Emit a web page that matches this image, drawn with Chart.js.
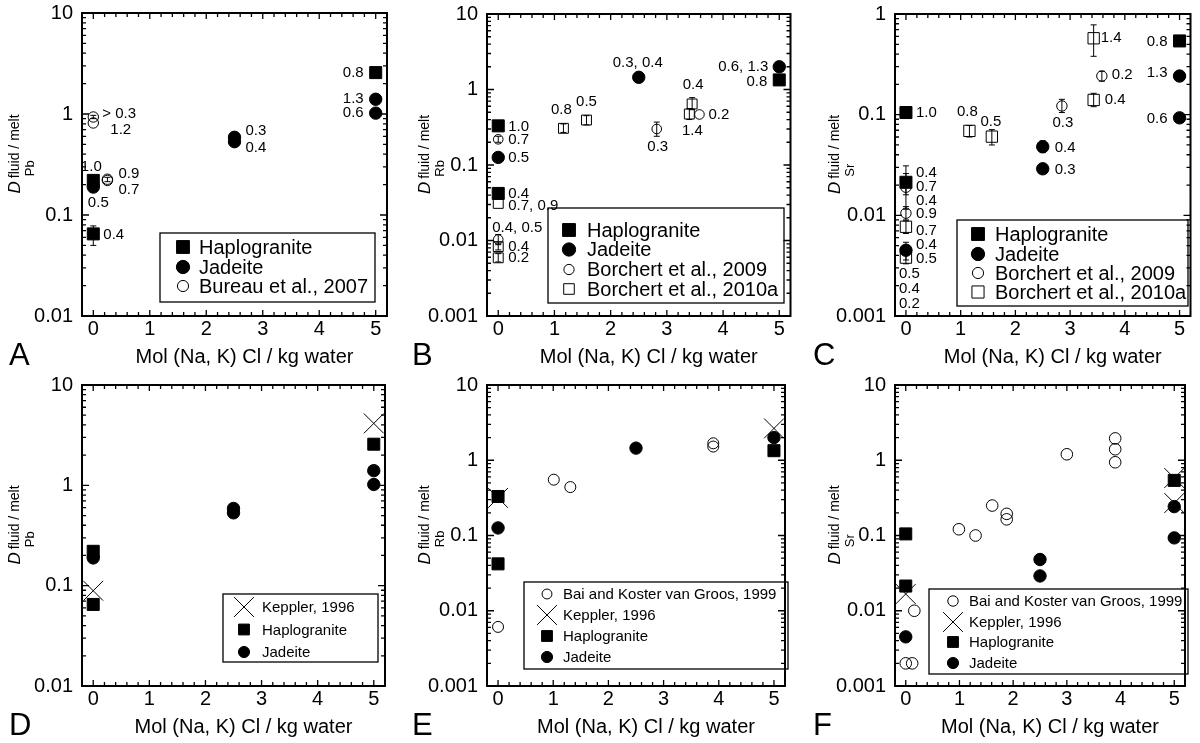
<!DOCTYPE html>
<html>
<head>
<meta charset="utf-8">
<style>
  body { margin: 0; background: #fff; }
  #wrap { position: relative; width: 1200px; height: 743px; overflow: hidden; background: #fff; }
  canvas { position: absolute; }
</style>
</head>
<body>
<div id="wrap">
  <canvas id="pA" width="400" height="372" style="left:0;top:0"></canvas>
  <canvas id="pB" width="400" height="372" style="left:400px;top:0"></canvas>
  <canvas id="pC" width="400" height="372" style="left:800px;top:0"></canvas>
  <canvas id="pD" width="400" height="373" style="left:0;top:370px"></canvas>
  <canvas id="pE" width="400" height="373" style="left:400px;top:370px"></canvas>
  <canvas id="pF" width="400" height="373" style="left:800px;top:370px"></canvas>
</div>

<script src="https://cdn.jsdelivr.net/npm/chart.js"></script>

<script>
  // axis ticks
  const xTicks = [0, 1, 2, 3, 4, 5];
  const yTicksPb = [0.01, 0.1, 1, 10];
  const yTicksRb = [0.001, 0.01, 0.1, 1, 10];
  const yTicksSrC = [0.001, 0.01, 0.1, 1];
  const yTicksSrF = [0.001, 0.01, 0.1, 1, 10];

  // ---- Pb (A, D) ----
  const pbHaploX = [0, 0, 5];
  const pbHaploY = [0.22, 0.065, 2.57];
  const pbHaploLbl = ['1.0', '0.4', '0.8'];
  const pbHaploErr = [null, [0.050, 0.078], null];
  const pbJadeX = [0, 2.5, 2.5, 5, 5];
  const pbJadeY = [0.189, 0.588, 0.532, 1.40, 1.02];
  const pbJadeLbl = ['0.5', '0.3', '0.4', '1.3', '0.6'];
  const pbBureauX = [0, 0, 0.25, 0.25];
  const pbBureauY = [0.934, 0.815, 0.226, 0.220];
  const pbBureauLbl = ['> 0.3', '1.2', '0.9', '0.7'];
  const pbBureauErr = [[0.9, 0.97], null, [0.214, 0.236], null];
  const pbKepplerX = [0, 5];
  const pbKepplerY = [0.089, 4.14];

  // ---- Rb (B, E) ----
  const rbHaploX = [0, 0, 5];
  const rbHaploY = [0.33, 0.042, 1.34];
  const rbHaploLbl = ['1.0', '0.4', '0.8'];
  const rbJadeX = [0, 2.5, 5];
  const rbJadeY = [0.126, 1.45, 2.0];
  const rbJadeLbl = ['0.5', '0.3, 0.4', '0.6, 1.3'];
  const rbB09X = [0, 0, 2.82, 3.58];
  const rbB09Y = [0.219, 0.0103, 0.30, 0.467];
  const rbB09Lbl = ['0.7', '0.4, 0.5', '0.3', '0.2'];
  const rbB09Err = [[0.20, 0.24], [0.0088, 0.012], [0.24, 0.37], null];
  const rbB10X = [0, 0, 0, 1.16, 1.57, 3.40, 3.45];
  const rbB10Y = [0.031, 0.0083, 0.0059, 0.306, 0.394, 0.473, 0.643];
  const rbB10Lbl = ['0.7, 0.9', '0.4', '0.2', '0.8', '0.5', '1.4', '0.4'];
  const rbB10Err = [null, [0.0075, 0.0093], [0.0052, 0.0067], [0.27, 0.35], [0.34, 0.45], [0.40, 0.56], [0.54, 0.78]];
  const rbBaiX = [0, 1.01, 1.31, 3.9, 3.9];
  const rbBaiY = [0.0061, 0.552, 0.44, 1.68, 1.52];
  const rbKepplerX = [0, 5];
  const rbKepplerY = [0.316, 2.65];

  // ---- Sr (C, F) ----
  const srHaploX = [0, 0, 5];
  const srHaploY = [0.105, 0.0213, 0.54];
  const srHaploLbl = ['1.0', '0.4', '0.8'];
  const srHaploErr = [[0.092, 0.118], [0.016, 0.031], null];
  const srJadeX = [0, 2.5, 2.5, 5, 5];
  const srJadeY = [0.0045, 0.048, 0.029, 0.242, 0.093];
  const srJadeLbl = ['0.4', '0.4', '0.3', '1.3', '0.6'];
  const srJadeErr = [[0.0036, 0.0054], [0.042, 0.055], null, null, null];
  const srB09X = [0, 0, 2.85, 3.58];
  const srB09Y = [0.019, 0.0105, 0.122, 0.242];
  const srB09Lbl = ['0.7', ['0.4', '0.9'], '0.3', '0.2'];
  const srB09Err = [[0.0115, 0.026], [0.009, 0.0122], [0.105, 0.142], [0.215, 0.27]];
  const srB10X = [0, 0, 1.16, 1.57, 3.43, 3.43];
  const srB10Y = [0.0077, 0.0038, 0.069, 0.0605, 0.574, 0.14];
  const srB10Lbl = ['0.7', ['0.5', '0.5', '0.4', '0.2'], '0.8', '0.5', '1.4', '0.4'];
  const srB10Err = [[0.0066, 0.0088], [0.0033, 0.0045], [0.060, 0.078], [0.050, 0.071], [0.38, 0.78], [0.12, 0.163]];
  const srBaiX = [0, 0.12, 0.16, 0.99, 1.30, 1.61, 1.88, 1.88, 3.0, 3.9, 3.9, 3.9];
  const srBaiY = [0.002, 0.002, 0.010, 0.121, 0.10, 0.25, 0.194, 0.164, 1.2, 1.95, 1.40, 0.94];
  const srKepplerX = [0, 5, 5];
  const srKepplerY = [0.0167, 0.58, 0.27];

  // label offsets from their point: [dx, dy, align]
  const posPbHaplo = [[-2, -14, 'c'], [10, 1, 'l'], [-12, 0, 'r']];
  const posPbJade = [[5, 16, 'c'], [11, -6, 'l'], [11, 6, 'l'], [-12, 0, 'r'], [-12, 0, 'r']];
  const posPbBureau = [[9, -3, 'l'], [17, 7, 'l'], [11, -5, 'l'], [11, 9, 'l']];
  const posRbHaplo = [[10, 1, 'l'], [10, 0, 'l'], [-12, 2, 'r']];
  const posRbJade = [[10, 0, 'l'], [-1, -14, 'c'], [-11, 0, 'r']];
  const posRbB09 = [[10, 1, 'l'], [-6, -12, 'l'], [1, 18, 'c'], [9, 0, 'l']];
  const posRbB10 = [[10, 2, 'l'], [10, 0, 'l'], [10, 0, 'l'], [-2, -18, 'c'], [0, -18, 'c'], [3, 17, 'c'], [1, -19, 'c']];
  const posSrHaplo = [[10, 0, 'l'], [10, -9, 'l'], [-12, 1, 'r']];
  const posSrJade = [[10, -5, 'l'], [12, 1, 'l'], [12, 1, 'l'], [-12, -3, 'r'], [-12, 1, 'r']];
  const posSrB09 = [[10, 0, 'l'], [[10, -12, 'l'], [10, 1, 'l']], [1, 17, 'c'], [10, -1, 'l']];
  const posSrB10 = [[10, 4, 'l'], [[10, 1, 'l'], [-7, 16, 'l'], [-7, 31, 'l'], [-7, 46, 'l']], [-2, -19, 'c'], [-1, -15, 'c'], [7, 0, 'l'], [11, 0, 'l']];

  const FONT = '"Liberation Sans", Arial, Helvetica, sans-serif';
  Chart.defaults.font.family = FONT;
  Chart.defaults.color = '#000';

  const STYLE = {
    haplo: { pointStyle: 'rect', pointRadius: 8.5, backgroundColor: '#000', borderColor: '#000', borderWidth: 1 },
    jade: { pointStyle: 'circle', pointRadius: 6.2, backgroundColor: '#000', borderColor: '#000', borderWidth: 1 },
    openCircle: { pointStyle: 'circle', pointRadius: 5.2, backgroundColor: 'rgba(0,0,0,0)', borderColor: '#000', borderWidth: 1 },
    openSquare: { pointStyle: 'rect', pointRadius: 7.5, backgroundColor: 'rgba(0,0,0,0)', borderColor: '#000', borderWidth: 1 },
    cross: { pointStyle: 'crossRot', pointRadius: 14, backgroundColor: 'rgba(0,0,0,0)', borderColor: '#000', borderWidth: 1 }
  };

  function series(label, xs, ys, style, extra) {
    return Object.assign({
      label: label,
      data: xs.map((x, i) => ({ x: x, y: ys[i] })),
      showLine: false,
      pointHoverRadius: 0,
      clip: false
    }, STYLE[style], extra || {});
  }

  const PANELS = {
    pA: {
      left: 0, top: 0, area: [82, 13, 387, 316], yMin: 0.01, yMax: 10, yTicks: yTicksPb,
      sub: 'Pb', letter: 'A', letterX: 9, yTitleX: 20,
      legend: { box: [160, 233, 375, 302], rows: [247, 267, 286], mx: 183, tx: 199, font: 20, ms: 1.07,
        items: ['Haplogranite', 'Jadeite', 'Bureau et al., 2007'] },
      datasets: [
        series('Haplogranite', pbHaploX, pbHaploY, 'haplo', { texts: pbHaploLbl, textPos: posPbHaplo, errs: pbHaploErr }),
        series('Jadeite', pbJadeX, pbJadeY, 'jade', { texts: pbJadeLbl, textPos: posPbJade }),
        series('Bureau et al., 2007', pbBureauX, pbBureauY, 'openCircle', { texts: pbBureauLbl, textPos: posPbBureau, errs: pbBureauErr })
      ]
    },
    pB: {
      left: 400, top: 0, area: [487, 14, 791, 316], yMin: 0.001, yMax: 10, yTicks: yTicksRb,
      sub: 'Rb', letter: 'B', letterX: 412, yTitleX: 430,
      legend: { box: [548, 208, 784, 303], rows: [230, 249.5, 269.5, 289], mx: 569, tx: 587, font: 20, ms: 1.07,
        items: ['Haplogranite', 'Jadeite', 'Borchert et al., 2009', 'Borchert et al., 2010a'] },
      datasets: [
        series('Haplogranite', rbHaploX, rbHaploY, 'haplo', { texts: rbHaploLbl, textPos: posRbHaplo }),
        series('Jadeite', rbJadeX, rbJadeY, 'jade', { texts: rbJadeLbl, textPos: posRbJade }),
        series('Borchert et al., 2009', rbB09X, rbB09Y, 'openCircle', { pointRadius: 4.8, texts: rbB09Lbl, textPos: posRbB09, errs: rbB09Err }),
        series('Borchert et al., 2010a', rbB10X, rbB10Y, 'openSquare', { pointRadius: 7, texts: rbB10Lbl, textPos: posRbB10, errs: rbB10Err })
      ]
    },
    pC: {
      left: 800, top: 0, area: [895, 14, 1198, 316], yMin: 0.001, yMax: 1, yTicks: yTicksSrC,
      sub: 'Sr', letter: 'C', letterX: 813, yTitleX: 840,
      legend: { box: [957, 220, 1188, 306], rows: [234, 254, 273, 292], mx: 978, tx: 995, font: 20, ms: 1.07,
        items: ['Haplogranite', 'Jadeite', 'Borchert et al., 2009', 'Borchert et al., 2010a'] },
      datasets: [
        series('Haplogranite', srHaploX, srHaploY, 'haplo', { texts: srHaploLbl, textPos: posSrHaplo, errs: srHaploErr }),
        series('Jadeite', srJadeX, srJadeY, 'jade', { texts: srJadeLbl, textPos: posSrJade, errs: srJadeErr }),
        series('Borchert et al., 2009', srB09X, srB09Y, 'openCircle', { texts: srB09Lbl, textPos: posSrB09, errs: srB09Err }),
        series('Borchert et al., 2010a', srB10X, srB10Y, 'openSquare', { pointRadius: 8, texts: srB10Lbl, textPos: posSrB10, errs: srB10Err })
      ]
    },
    pD: {
      left: 0, top: 370, area: [82, 383, 387, 686], yMin: 0.01, yMax: 10, yTicks: yTicksPb,
      sub: 'Pb', letter: 'D', letterX: 9, yTitleX: 20,
      legend: { box: [223, 594, 378, 662], rows: [607, 629.5, 652], mx: 244, tx: 262, font: 15, ms: 0.9,
        items: ['Keppler, 1996', 'Haplogranite', 'Jadeite'] },
      datasets: [
        series('Keppler, 1996', pbKepplerX, pbKepplerY, 'cross'),
        series('Haplogranite', pbHaploX, pbHaploY, 'haplo'),
        series('Jadeite', pbJadeX, pbJadeY, 'jade')
      ]
    },
    pE: {
      left: 400, top: 370, area: [487, 383, 791, 686], yMin: 0.001, yMax: 10, yTicks: yTicksRb,
      sub: 'Rb', letter: 'E', letterX: 412, yTitleX: 430,
      legend: { box: [524, 582, 788, 669], rows: [594, 615, 636, 657], mx: 547, tx: 563, font: 15, ms: 0.9,
        items: ['Bai and Koster van Groos, 1999', 'Keppler, 1996', 'Haplogranite', 'Jadeite'] },
      datasets: [
        series('Keppler, 1996', rbKepplerX, rbKepplerY, 'cross'),
        series('Haplogranite', rbHaploX, rbHaploY, 'haplo'),
        series('Jadeite', rbJadeX, rbJadeY, 'jade'),
        series('Bai and Koster van Groos, 1999', rbBaiX, rbBaiY, 'openCircle', { pointRadius: 5.5 })
      ]
    },
    pF: {
      left: 800, top: 370, area: [895, 383, 1198, 686], yMin: 0.001, yMax: 10, yTicks: yTicksSrF,
      sub: 'Sr', letter: 'F', letterX: 813, yTitleX: 840,
      legend: { box: [929, 589, 1188, 674], rows: [601, 622, 642, 663], mx: 953, tx: 969, font: 15, ms: 0.9,
        items: ['Bai and Koster van Groos, 1999', 'Keppler, 1996', 'Haplogranite', 'Jadeite'] },
      datasets: [
        series('Keppler, 1996', srKepplerX, srKepplerY, 'cross'),
        series('Haplogranite', srHaploX, srHaploY, 'haplo'),
        series('Jadeite', srJadeX, srJadeY, 'jade'),
        series('Bai and Koster van Groos, 1999', srBaiX, srBaiY, 'openCircle', { pointRadius: 5.8 })
      ]
    }
  };

  function drawMarker(ctx, d, x, y, r) {
    ctx.save();
    ctx.lineWidth = d.borderWidth;
    ctx.strokeStyle = d.borderColor;
    ctx.fillStyle = d.backgroundColor;
    ctx.beginPath();
    const s = r * Math.SQRT1_2;
    if (d.pointStyle === 'rect') {
      ctx.rect(x - s, y - s, 2 * s, 2 * s);
    } else if (d.pointStyle === 'circle') {
      ctx.arc(x, y, r, 0, Math.PI * 2);
    } else {
      ctx.moveTo(x - s, y - s); ctx.lineTo(x + s, y + s);
      ctx.moveTo(x - s, y + s); ctx.lineTo(x + s, y - s);
    }
    if (d.pointStyle !== 'crossRot') ctx.fill();
    ctx.stroke();
    ctx.restore();
  }

  function seg(ctx, x0, y0, x1, y1) {
    ctx.moveTo(x0, y0); ctx.lineTo(x1, y1);
  }

  const panelPlugin = {
    id: 'panel',
    beforeDatasetsDraw(chart) {
      const ctx = chart.ctx, ca = chart.chartArea;
      const xs = chart.scales.x, ys = chart.scales.y;
      ctx.save();
      ctx.strokeStyle = '#000';

      // error bars
      ctx.lineWidth = 1;
      ctx.beginPath();
      chart.data.datasets.forEach((d, i) => {
        if (!d.errs) return;
        const meta = chart.getDatasetMeta(i);
        d.errs.forEach((e, j) => {
          if (!e) return;
          const px = meta.data[j].x;
          const y0 = ys.getPixelForValue(e[0]), y1 = ys.getPixelForValue(e[1]);
          seg(ctx, px, y0, px, y1);
          seg(ctx, px - 3, y0, px + 3, y0);
          seg(ctx, px - 3, y1, px + 3, y1);
        });
      });
      ctx.stroke();

      // inward ticks on all four sides
      ctx.lineWidth = 1.3;
      ctx.beginPath();
      const e0 = Math.floor(Math.log10(ys.min)), e1 = Math.ceil(Math.log10(ys.max));
      for (let e = e0; e <= e1; e++) {
        for (let k = 1; k <= 9; k++) {
          const v = k * Math.pow(10, e);
          if (v < ys.min * 0.999 || v > ys.max * 1.001) continue;
          const py = ys.getPixelForValue(v);
          const len = k === 1 ? 7 : 4;
          seg(ctx, ca.left, py, ca.left + len, py);
          seg(ctx, ca.right - len, py, ca.right, py);
        }
      }
      for (let i = -1; i <= 26; i++) {
        const px = xs.getPixelForValue(i * 0.2);
        if (px < ca.left + 1 || px > ca.right - 1) continue;
        const len = i % 5 === 0 ? 6 : 4;
        seg(ctx, px, ca.top, px, ca.top + len);
        seg(ctx, px, ca.bottom - len, px, ca.bottom);
      }
      ctx.stroke();

      // frame
      ctx.lineWidth = 2;
      ctx.strokeRect(ca.left, ca.top, ca.right - ca.left, ca.bottom - ca.top);
      ctx.restore();
    },
    afterDatasetsDraw(chart) {
      const P = PANELS[chart.canvas.id];
      const ctx = chart.ctx;
      ctx.save();
      ctx.fillStyle = '#000';

      // point labels
      ctx.font = '15px ' + FONT;
      ctx.textBaseline = 'middle';
      chart.data.datasets.forEach((d, i) => {
        if (!d.texts) return;
        const meta = chart.getDatasetMeta(i);
        d.texts.forEach((t, j) => {
          const list = Array.isArray(t) ? t : [t];
          const offs = Array.isArray(t) ? d.textPos[j] : [d.textPos[j]];
          list.forEach((s, k) => {
            const o = offs[k];
            ctx.textAlign = o[2] === 'l' ? 'left' : (o[2] === 'r' ? 'right' : 'center');
            ctx.fillText(s, meta.data[j].x + o[0], meta.data[j].y + o[1]);
          });
        });
      });

      // legend
      const L = P.legend;
      const bx = L.box[0] - P.left, by = L.box[1] - P.top;
      ctx.lineWidth = 1.3;
      ctx.strokeStyle = '#000';
      ctx.strokeRect(bx, by, L.box[2] - L.box[0], L.box[3] - L.box[1]);
      ctx.font = L.font + 'px ' + FONT;
      ctx.textAlign = 'left';
      L.items.forEach((name, k) => {
        const d = chart.data.datasets.find(dd => dd.label === name);
        const ry = L.rows[k] - P.top;
        const r = d.pointStyle === 'crossRot' ? d.pointRadius : d.pointRadius * L.ms;
        drawMarker(ctx, d, L.mx - P.left, ry, r);
        ctx.fillText(name, L.tx - P.left, ry + 1);
      });
      ctx.restore();
    },
    afterDraw(chart) {
      const P = PANELS[chart.canvas.id];
      const ctx = chart.ctx, ca = chart.chartArea;
      ctx.save();
      ctx.fillStyle = '#000';
      ctx.textBaseline = 'alphabetic';

      // x title
      ctx.font = '20px ' + FONT;
      ctx.textAlign = 'center';
      ctx.fillText('Mol (Na, K) Cl / kg water', (ca.left + ca.right) / 2 + 10, ca.bottom + 47);

      // panel letter
      ctx.font = '31px ' + FONT;
      ctx.textAlign = 'left';
      ctx.fillText(P.letter, P.letterX - P.left, ca.bottom + 49);

      // y title: D with superscript / subscript, rotated
      ctx.translate(P.yTitleX - P.left, (ca.top + ca.bottom) / 2 + 29);
      ctx.rotate(-Math.PI / 2);
      ctx.font = 'italic 17px ' + FONT;
      ctx.fillText('D', 0, 0);
      const w = ctx.measureText('D').width;
      ctx.font = '14px ' + FONT;
      ctx.fillText('fluid / melt', w + 3, -1);
      ctx.font = '13px ' + FONT;
      ctx.fillText(P.sub, w + 5, 14);
      ctx.restore();
    }
  };

  Object.keys(PANELS).forEach(id => {
    const P = PANELS[id];
    const cv = document.getElementById(id);
    const W = cv.width, H = cv.height;
    const aL = P.area[0] - P.left, aT = P.area[1] - P.top;
    const aR = P.area[2] - P.left, aB = P.area[3] - P.top;

    new Chart(cv, {
      type: 'scatter',
      data: { datasets: P.datasets },
      options: {
        responsive: false,
        animation: false,
        events: [],
        layout: { padding: { left: 0, top: aT, right: W - aR, bottom: 0 } },
        plugins: { legend: { display: false }, tooltip: { enabled: false } },
        scales: {
          x: {
            type: 'linear', min: -0.2, max: 5.2,
            grid: { display: false, drawTicks: false },
            border: { display: false },
            ticks: { font: { size: 20 }, color: '#000', padding: 1, maxRotation: 0, autoSkip: false,
              callback: v => String(v) },
            afterBuildTicks: s => { s.ticks = xTicks.map(v => ({ value: v })); },
            afterFit: s => { s.height = H - aB; s.paddingLeft = 0; s.paddingRight = 0; }
          },
          y: {
            type: 'logarithmic', min: P.yMin, max: P.yMax,
            grid: { display: false, drawTicks: false },
            border: { display: false },
            ticks: { font: { size: 20 }, color: '#000', padding: 9, autoSkip: false,
              callback: v => String(v) },
            afterBuildTicks: s => { s.ticks = P.yTicks.map(v => ({ value: v })); },
            afterFit: s => { s.width = aL; s.paddingTop = 0; s.paddingBottom = 0; }
          }
        }
      },
      plugins: [panelPlugin]
    });
  });
</script>
</body>
</html>
